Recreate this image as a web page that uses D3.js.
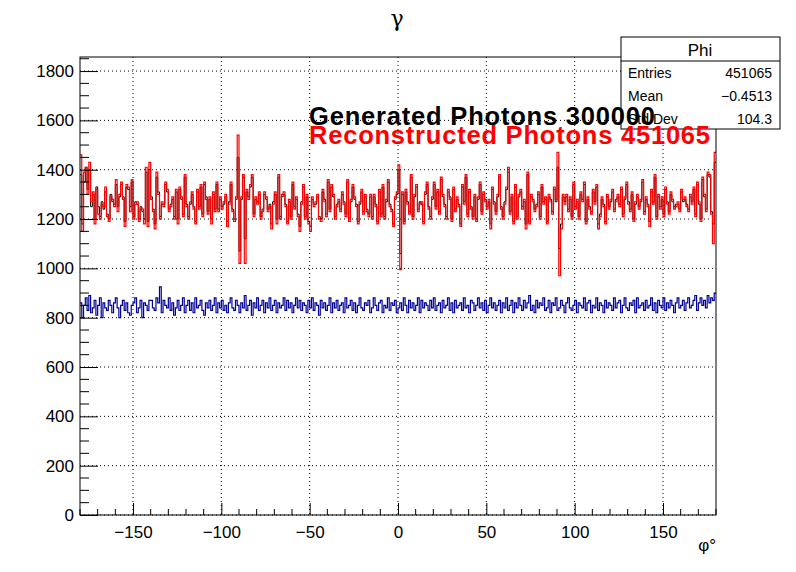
<!DOCTYPE html><html><head><meta charset="utf-8"><script src="https://cdn.jsdelivr.net/npm/d3@7"></script>
<style>body{margin:0;background:#fff}</style></head><body><svg id="c" width="796" height="572"></svg>
<script>
const xTicks=[-150,-100,-50,0,50,100,150];
const yTicks=[0,200,400,600,800,1000,1200,1400,1600,1800];
const reconstructed=[
1460,1150,1390,1410,1300,1430,1270,1310,1180,1320,1220,1200,1260,1250,1330,1210,1190,1290,1280,1250,
1360,1230,1300,1350,1280,1170,1340,1330,1230,1360,1200,1260,1270,1190,1240,1240,1180,1410,1170,1430,
1280,1230,1160,1390,1300,1200,1270,1250,1350,1320,1230,1250,1290,1200,1320,1180,1330,1290,1210,1380,
1250,1200,1270,1310,1240,1180,1320,1240,1340,1210,1350,1280,1220,1290,1180,1310,1230,1350,1230,1290,
1240,1270,1300,1170,1260,1350,1230,1190,1290,1540,1020,1290,1380,1020,1320,1280,1340,1380,1210,1290,
1260,1310,1200,1230,1310,1290,1230,1250,1160,1260,1310,1180,1380,1200,1300,1310,1250,1180,1280,1200,
1350,1240,1290,1210,1150,1260,1340,1200,1300,1180,1150,1290,1250,1270,1300,1200,1190,1320,1270,1210,
1360,1230,1340,1300,1200,1250,1280,1230,1310,1260,1210,1360,1190,1280,1340,1290,1250,1180,1270,1320,
1220,1300,1230,1210,1300,1200,1300,1250,1180,1320,1210,1340,1200,1280,1360,1250,1230,1170,1290,1310,
1420,995,1310,1180,1320,1260,1220,1380,1200,1300,1340,1230,1260,1270,1180,1310,1350,1240,1200,1290,
1350,1240,1320,1220,1370,1300,1250,1200,1320,1280,1190,1330,1230,1290,1250,1170,1340,1260,1380,1210,
1320,1240,1200,1300,1190,1290,1350,1220,1310,1270,1240,1280,1160,1330,1260,1220,1300,1380,1240,1200,
1260,1330,1410,1220,1300,1180,1340,1200,1300,1320,1240,1280,1160,1390,1180,1300,1270,1230,1250,1310,
1200,1340,1260,1290,1180,1300,1270,1220,1330,1280,1470,970,1160,1300,1260,1300,1230,1290,1200,1350,
1240,1280,1200,1310,1270,1350,1180,1290,1240,1220,1320,1260,1340,1160,1210,1290,1250,1180,1300,1240,
1280,1320,1230,1270,1300,1250,1330,1210,1290,1350,1260,1230,1310,1190,1270,1300,1240,1280,1360,1220,
1290,1250,1170,1320,1260,1380,1200,1300,1240,1290,1210,1330,1260,1220,1310,1280,1240,1250,1270,1230,
1320,1280,1290,1250,1230,1300,1260,1330,1210,1350,1270,1190,1370,1300,1230,1390,1380,1220,1100,1470];
const generated=[
1380,1180,1350,1410,1320,1400,1250,1300,1200,1330,1250,1210,1270,1240,1310,1220,1200,1300,1270,1260,
1340,1250,1290,1340,1290,1190,1330,1320,1250,1350,1210,1270,1260,1200,1250,1230,1200,1390,1190,1400,
1290,1240,1180,1370,1310,1210,1260,1260,1340,1310,1240,1260,1280,1210,1310,1200,1320,1280,1220,1370,
1260,1210,1260,1300,1250,1190,1310,1250,1330,1220,1340,1290,1230,1280,1200,1300,1240,1340,1240,1280,
1250,1260,1290,1190,1270,1340,1240,1200,1280,1450,1070,1280,1370,1120,1310,1290,1330,1370,1220,1280,
1270,1300,1210,1240,1300,1280,1240,1260,1180,1270,1300,1200,1370,1210,1290,1300,1260,1190,1270,1210,
1340,1250,1280,1220,1170,1270,1330,1210,1290,1190,1170,1280,1260,1260,1290,1210,1200,1310,1280,1220,
1350,1240,1330,1290,1210,1260,1270,1240,1300,1270,1220,1350,1200,1270,1330,1280,1260,1190,1260,1310,
1230,1290,1240,1220,1290,1210,1290,1260,1190,1310,1220,1330,1210,1270,1350,1260,1240,1180,1280,1300,
1400,1060,1300,1190,1310,1270,1230,1370,1210,1290,1330,1240,1270,1260,1190,1300,1340,1250,1210,1280,
1340,1250,1310,1230,1360,1290,1260,1210,1310,1290,1200,1320,1240,1280,1260,1180,1330,1270,1370,1220,
1310,1250,1210,1290,1200,1280,1340,1230,1300,1280,1250,1270,1180,1320,1270,1230,1290,1370,1250,1210,
1270,1320,1390,1230,1290,1190,1330,1210,1290,1310,1250,1270,1180,1380,1190,1290,1280,1240,1260,1300,
1210,1330,1270,1280,1190,1290,1280,1230,1320,1270,1410,1080,1180,1290,1270,1290,1240,1280,1210,1340,
1250,1270,1210,1300,1280,1340,1190,1280,1250,1230,1310,1270,1330,1180,1220,1280,1260,1190,1290,1250,
1270,1310,1240,1280,1290,1260,1320,1220,1280,1340,1270,1240,1300,1200,1260,1290,1250,1270,1350,1230,
1280,1260,1190,1310,1270,1370,1210,1290,1250,1280,1220,1320,1270,1230,1300,1270,1250,1260,1260,1240,
1310,1270,1280,1260,1240,1290,1270,1320,1220,1340,1260,1200,1360,1290,1240,1380,1370,1230,1180,1430];
const truth=[
860,800,850,880,830,890,820,840,870,810,850,880,800,860,840,830,870,850,820,860,
880,840,800,850,870,830,860,820,810,850,860,880,820,840,870,800,860,850,830,870,
870,840,830,880,860,925,820,870,850,840,880,830,860,810,840,870,830,850,880,820,
850,870,830,860,820,880,840,850,870,830,810,860,840,870,830,850,880,820,860,840,
870,830,850,820,860,880,840,830,870,850,820,860,840,890,830,850,870,810,860,840,
880,830,850,870,820,860,840,880,830,850,870,820,860,840,850,880,830,870,840,860,
820,850,880,840,870,830,860,850,820,870,840,880,830,860,850,810,870,840,860,830,
850,880,820,860,840,870,830,850,860,820,880,840,850,870,830,860,820,850,880,840,
830,860,850,870,820,840,880,850,830,860,870,820,850,840,880,830,860,850,870,820,
840,860,830,880,850,820,870,840,860,830,850,880,820,870,840,860,850,830,870,840,
880,830,850,860,820,870,840,850,880,830,860,820,870,840,850,860,830,880,840,850,
820,870,860,830,850,880,840,860,830,870,820,850,880,840,860,830,850,870,820,860,
840,880,830,850,870,820,860,840,880,850,830,870,840,860,890,830,850,820,870,840,
860,850,880,830,840,870,820,860,850,880,830,840,870,850,820,860,880,840,830,850,
870,820,860,850,840,880,830,860,870,820,850,840,880,830,860,850,820,870,840,860,
850,830,880,840,860,870,820,850,880,840,830,860,850,870,820,880,840,850,860,830,
870,840,850,880,830,860,820,870,850,840,880,830,860,840,870,850,820,860,880,840,
850,870,830,860,880,840,850,870,890,830,860,880,850,870,840,890,860,880,870,900];
const legendLabels=["Generated Photons 300000","Reconstructed Photons 451065"];
const stats=[["Entries","451065"],["Mean","\u22120.4513"],["Std Dev","104.3"]];

const svg=d3.select("#c");
const L=80,R=716,T=57,B=515;
const FF="Liberation Sans, Arial";
const x=d3.scaleLinear().domain([-180,180]).range([L,R]);
const y=d3.scaleLinear().domain([0,1857]).range([B,T]);
const g=svg.append("g");
g.selectAll(".gx").data(xTicks).join("line").attr("x1",d=>x(d)).attr("x2",d=>x(d)).attr("y1",T).attr("y2",B).attr("stroke","#000").attr("stroke-dasharray","1,3");
g.selectAll(".gy").data(yTicks).join("line").attr("y1",d=>y(d)).attr("y2",d=>y(d)).attr("x1",L).attr("x2",R).attr("stroke","#000").attr("stroke-dasharray","1,3");
function step(arr){const n=arr.length,w=360/n;let p=[];arr.forEach((v,i)=>{p.push([x(-180+i*w),y(v)]);p.push([x(-180+(i+1)*w),y(v)]);});return d3.line()(p);}
g.append("path").attr("d",step(generated)).attr("fill","none").attr("stroke","#000").attr("stroke-width",1);
g.append("path").attr("d",step(reconstructed)).attr("fill","none").attr("stroke","#f00").attr("stroke-width",1.2);
g.append("path").attr("d",step(truth)).attr("fill","none").attr("stroke","#00009a").attr("stroke-width",1.2);
svg.append("rect").attr("x",L).attr("y",T).attr("width",R-L).attr("height",B-T).attr("fill","none").attr("stroke","#000");
const xa=d3.axisBottom(x).tickValues(xTicks).tickSize(-12).tickPadding(8).tickFormat(d=>d<0?"\u2212"+(-d):d);
const ax=svg.append("g").attr("transform",`translate(0,${B})`).call(xa);
ax.selectAll(".mn").data(d3.range(-180,181,10).filter(v=>v%50!==0)).join("line").attr("x1",d=>x(d)).attr("x2",d=>x(d)).attr("y1",0).attr("y2",-6).attr("stroke","#000");
const ya=d3.axisLeft(y).tickValues(yTicks).tickSize(-18).tickPadding(6).tickFormat(d3.format("d"));
const ay=svg.append("g").attr("transform",`translate(${L},0)`).call(ya);
ay.selectAll(".mn").data(d3.range(0,1851,50).filter(v=>v%200!==0)).join("line").attr("y1",d=>y(d)).attr("y2",d=>y(d)).attr("x1",0).attr("x2",9).attr("stroke","#000");
svg.selectAll(".domain").remove();
svg.selectAll(".tick text").attr("font-family",FF).attr("font-size",17).attr("fill","#000");
ax.selectAll(".tick text").attr("dy","0.9em");
svg.append("text").attr("x",397).attr("y",26).attr("text-anchor","middle").attr("font-size",22).attr("font-family","DejaVu Serif").text("\u03b3");
svg.append("text").attr("x",716).attr("y",551).attr("text-anchor","end").attr("font-size",17).attr("font-family",FF).text("\u03c6\u00b0");
const sb=svg.append("g");
sb.append("rect").attr("x",621).attr("y",37).attr("width",159).attr("height",92).attr("fill","#fff").attr("stroke","#000");
sb.append("line").attr("x1",621).attr("x2",780).attr("y1",61).attr("y2",61).attr("stroke","#000");
sb.append("text").attr("x",700).attr("y",56).attr("text-anchor","middle").attr("font-family",FF).attr("font-size",17).text("Phi");
stats.forEach((s,i)=>{sb.append("text").attr("x",628).attr("y",78+i*23).attr("font-family",FF).attr("font-size",14).text(s[0]);
sb.append("text").attr("x",772).attr("y",78+i*23).attr("text-anchor","end").attr("font-family",FF).attr("font-size",14).text(s[1]);});
svg.append("text").attr("x",309).attr("y",125).attr("font-family",FF).attr("font-weight","bold").attr("font-size",25.5).attr("textLength",346).attr("fill","#000").text(legendLabels[0]);
svg.append("text").attr("x",309).attr("y",144).attr("font-family",FF).attr("font-weight","bold").attr("font-size",25.5).attr("textLength",401).attr("fill","#f00").text(legendLabels[1]);
</script></body></html>
